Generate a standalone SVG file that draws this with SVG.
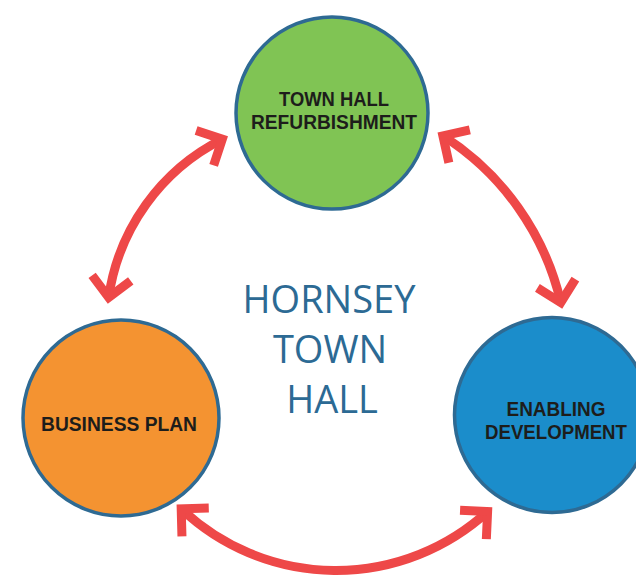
<svg xmlns="http://www.w3.org/2000/svg" width="636" height="577" viewBox="0 0 636 577">
  <style>
    .node { stroke: #2e6a93; stroke-width: 3.5; }
    .label { font-family: "Liberation Sans", Arial, sans-serif; font-weight: bold; font-size: 20px; fill: #1d1d1b; text-anchor: middle; }
    .title { font-family: "Open Sans", "Liberation Sans", sans-serif; font-size: 38px; fill: #2c6a94; text-anchor: middle; }
    .link { fill: none; stroke: #ee4848; stroke-width: 9; marker-start: url(#chevron); marker-end: url(#chevron); }
  </style>
  <defs>
    <!-- open chevron head, placed at both ends of each link -->
    <marker id="chevron" markerUnits="userSpaceOnUse" orient="auto-start-reverse" refX="0" refY="0" markerWidth="60" markerHeight="60" overflow="visible">
      <path d="M-19.5,-19.5 L0,0 L-19.5,19.5" fill="none" stroke="#ee4848" stroke-width="9" stroke-linejoin="miter" stroke-miterlimit="4"/>
    </marker>
  </defs>

  <rect width="636" height="577" fill="#ffffff"/>

  <g id="connectors">
    <path class="link" d="M108.7,297.4 A210,210 0 0 1 222.3,139.2"/>
    <path class="link" d="M442.9,135.8 A270,270 0 0 1 560.8,302.5"/>
    <path class="link" d="M181.2,508.8 A225,225 0 0 0 487.6,511.6"/>
  </g>

  <g id="town-hall-refurbishment">
    <circle class="node" cx="332" cy="113" r="96" fill="#80c454"/>
    <text class="label" x="334" y="106" textLength="110" lengthAdjust="spacingAndGlyphs">TOWN HALL</text>
    <text class="label" x="334" y="129" textLength="166" lengthAdjust="spacingAndGlyphs">REFURBISHMENT</text>
  </g>

  <g id="business-plan">
    <circle class="node" cx="121" cy="418" r="98" fill="#f49331"/>
    <text class="label" x="119" y="431" textLength="156" lengthAdjust="spacingAndGlyphs">BUSINESS PLAN</text>
  </g>

  <g id="enabling-development">
    <circle class="node" cx="552" cy="415" r="97.5" fill="#1b8dcb"/>
    <text class="label" x="556" y="416" textLength="99" lengthAdjust="spacingAndGlyphs">ENABLING</text>
    <text class="label" x="556" y="439" textLength="142" lengthAdjust="spacingAndGlyphs">DEVELOPMENT</text>
  </g>

  <g id="hornsey-town-hall">
    <text class="title" x="329" y="313">HORNSEY</text>
    <text class="title" x="330" y="363">TOWN</text>
    <text class="title" x="332" y="413">HALL</text>
  </g>
</svg>
